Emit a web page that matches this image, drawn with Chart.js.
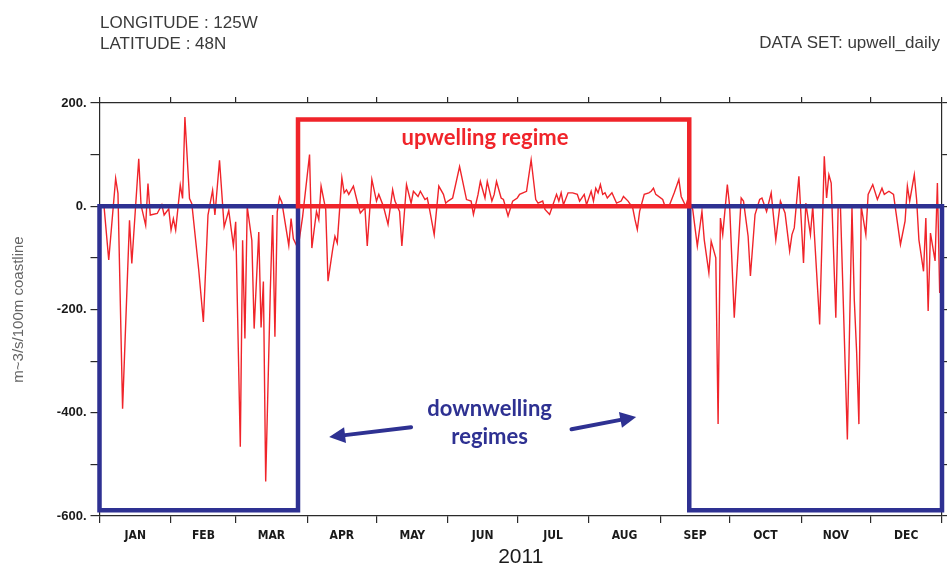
<!DOCTYPE html>
<html><head><meta charset="utf-8">
<script src="https://cdn.jsdelivr.net/npm/chart.js@4.4.0/dist/chart.umd.min.js"></script>
<style>html,body{margin:0;padding:0;background:#fff;}#wrap{width:948px;height:569px;}</style>
</head><body><div id="wrap"><canvas id="c" width="948" height="569"></canvas></div>
<script>
const monthNames = ['JAN','FEB','MAR','APR','MAY','JUN','JUL','AUG','SEP','OCT','NOV','DEC'];
const monthStarts = [0,31,59,90,120,151,181,212,243,273,304,334,365];
const monthMids = [15.5,45,74.5,105,135.5,166,196.5,227.5,258,288.5,319,349.5];
const yLabelTicks = [200,0,-200,-400,-600];

// daily upwelling index (m^3/s/100m coastline)
const days = [0,2,4,7,8,10,13,14,17,18,20,21,22,25,27,28,30,31,32,33,35,36,37,39,40,43,45,47,49,50,52,54,56,58,59,61,62,63,64,66,67,69,70,71,72,74,75,76,77,78,79,82,83,84,86,
88,91,92,94,95,96,98,99,101,102,103,105,106,107,108,110,112,113,115,116,118,120,121,123,125,127,128,130,131,133,135,136,138,139,141,142,143,145,147,149,150,151,153,156,159,161,162,164,165,167,168,170,171,172,174,175,177,179,
181,182,185,187,189,190,192,193,195,196,198,199,200,201,203,205,207,208,210,211,213,214,215,216,217,218,219,220,222,224,226,227,229,231,232,233,234,236,238,239,240,241,244,245,247,249,251,252,254,
255,257,259,261,262,264,265,267,268,269,270,272,273,275,278,279,281,282,284,286,287,289,291,293,295,297,299,300,301,303,305,306,308,309,312,314,315,316,317,319,320,321,324,326,327,328,329,330,332,333,335,337,339,340,342,344,345,347,349,350,351,353,354,355,357,358,359,360,362,363,364];
const upwell = [0,-2,-104,54,25,-392,-27,-111,92,2,-37,44,-17,-14,3,-17,-5,-46,-24,-46,41,15,173,15,5,-124,-224,-17,31,-17,89,-40,-8,-76,-30,-466,-66,-256,-1,-66,-237,-50,-235,-146,-533,-163,-17,-253,-11,18,8,-76,-24,-63,-82,
-20,100,-81,-10,-26,39,-6,-145,-84,-58,-71,55,26,32,23,39,3,-13,-3,-77,52,10,23,0,-35,32,10,-10,-77,42,6,29,19,29,13,16,-6,-55,39,23,6,10,16,77,13,10,-16,23,48,16,48,10,23,48,16,13,-19,10,
16,23,29,90,13,6,10,-6,-16,-3,23,10,26,3,26,26,23,10,23,3,29,10,35,26,42,23,26,16,26,6,10,19,10,-3,-26,-45,-10,23,26,29,35,23,13,0,3,26,52,19,0,
16,-6,-77,-10,-65,-129,-68,-100,-422,-23,-55,42,0,-216,16,10,-58,-135,-16,13,16,-10,26,-65,10,-13,-87,-55,-42,58,-110,6,-55,0,-229,97,16,61,45,-216,-3,0,-452,-3,-181,-281,-422,0,-55,23,42,13,35,23,29,23,-10,-74,-29,39,10,61,13,-65,-126,-23,-203,-52,-106,45,-168];

// regime boxes (day, value)
const upBoxX = [86,86,255.5,255.5,86];
const upBoxY = [0,168,168,0,0];
const downBox1X = [0,0,86,86,0];
const downBox1Y = [0,-589,-589,0,0];
const downBox2X = [255.5,255.5,365,365,255.5];
const downBox2Y = [0,-589,-589,0,0];

// annotation anchors (day, value)
const upLabel = {text:'upwelling regime', x:167, y:133};
const downLabel = {lines:['downwelling','regimes'], x:169, y:[-393,-447]};
const arrows = [
  {from:[135,-428], to:[99.5,-447]},
  {from:[204.5,-432], to:[232.5,-408]}
];

const RED = '#f0242a', BLUE = '#2e3192', AXIS = '#2a2a2a';
const pts = (xs, ys) => xs.map((x,i)=>({x, y: ys[i]}));

const annot = {
  id:'annot',
  afterDatasetsDraw(chart){
    const {ctx, scales:{x, y}} = chart;
    ctx.save();
    ctx.textAlign='center'; ctx.textBaseline='middle';
    ctx.font = 'bold 22px Lato, "Open Sans", sans-serif';
    ctx.fillStyle = RED;
    ctx.fillText(upLabel.text, x.getPixelForValue(upLabel.x), y.getPixelForValue(upLabel.y));
    ctx.fillStyle = BLUE;
    downLabel.lines.forEach((t,i)=>ctx.fillText(t, x.getPixelForValue(downLabel.x), y.getPixelForValue(downLabel.y[i])));
    ctx.strokeStyle = BLUE; ctx.lineWidth = 4; ctx.lineCap='round';
    arrows.forEach(a=>{
      const x1=x.getPixelForValue(a.from[0]), y1=y.getPixelForValue(a.from[1]);
      const x2=x.getPixelForValue(a.to[0]), y2=y.getPixelForValue(a.to[1]);
      const ang=Math.atan2(y2-y1,x2-x1), L=16, W=8;
      const bx=x2-L*Math.cos(ang), by=y2-L*Math.sin(ang);
      ctx.beginPath(); ctx.moveTo(x1,y1); ctx.lineTo(bx,by); ctx.stroke();
      ctx.beginPath(); ctx.moveTo(x2,y2);
      ctx.lineTo(bx+W*Math.sin(ang), by-W*Math.cos(ang));
      ctx.lineTo(bx-W*Math.sin(ang), by+W*Math.cos(ang));
      ctx.closePath(); ctx.fill();
    });
    ctx.restore();
  },
  afterDraw(chart){
    const ctx = chart.ctx;
    ctx.save();
    ctx.fillStyle='#3a3a3a'; ctx.font='17px "Liberation Sans", Arial, sans-serif';
    ctx.textBaseline='alphabetic'; ctx.textAlign='left';
    ctx.fillText('LONGITUDE : 125W', 100, 28);
    ctx.fillText('LATITUDE : 48N', 100, 49);
    ctx.textAlign='right';
    ctx.fillText('DATA SET: upwell_daily', 940, 48);
    ctx.restore();
  }
};

const boxDs = (xs, ys, color) => ({data: pts(xs, ys), borderColor: color, borderWidth: 4.5, pointRadius: 0,
  fill: false, tension: 0, clip: false, order: 1, borderJoinStyle: 'miter', borderCapStyle: 'square'});

new Chart(document.getElementById('c'), {
  type: 'line',
  data: { datasets: [
    {data: pts(days, upwell), borderColor: RED, borderWidth: 1.4, pointRadius: 0, tension: 0, order: 5},
    boxDs(upBoxX, upBoxY, RED),
    boxDs(downBox1X, downBox1Y, BLUE),
    boxDs(downBox2X, downBox2Y, BLUE)
  ]},
  options: {
    responsive: false, animation: false, devicePixelRatio: 1,
    layout: {padding: {top: 97, right: 0, left: 0, bottom: 0}},
    plugins: {legend: {display: false}, tooltip: {enabled: false}},
    scales: {
      x: {
        type: 'linear', position: 'bottom', min: 0, max: 365,
        afterBuildTicks: s => { s.ticks = monthStarts.concat(monthMids).sort((a,b)=>a-b).map(v=>({value:v})); },
        afterFit: s => { s.height = 53; },
        ticks: {autoSkip: false, maxRotation: 0, padding: 6, color: '#1a1a1a',
          font: {family: '"Liberation Sans Narrow", "DejaVu Sans Condensed", "Liberation Sans", sans-serif', size: 12, weight: 'bold'},
          callback: v => { const i = monthMids.indexOf(v); return i >= 0 ? monthNames[i] : ''; }},
        grid: {drawOnChartArea: false, tickLength: 7, lineWidth: 1.2,
          tickColor: c => (c.tick && monthStarts.includes(c.tick.value)) ? AXIS : 'rgba(0,0,0,0)'},
        border: {color: AXIS, width: 1.2},
        title: {display: true, text: '2011', color: '#1a1a1a', padding: {top: 0, bottom: 1},
          font: {family: '"Liberation Sans", Arial, sans-serif', size: 21, lineHeight: 1}}
      },
      x2: {
        type: 'linear', position: 'top', min: 0, max: 365,
        afterBuildTicks: s => { s.ticks = monthStarts.map(v=>({value:v})); },
        afterFit: s => { s.height = 6; },
        ticks: {display: false},
        grid: {drawOnChartArea: false, tickLength: 6, color: AXIS, lineWidth: 1.2},
        border: {color: AXIS, width: 1.2}
      },
      y: {
        min: -600, max: 200,
        afterFit: s => { s.width = 99.5; },
        ticks: {stepSize: 100, padding: 4, color: '#1a1a1a',
          font: {family: '"Liberation Sans", Arial, sans-serif', size: 13, weight: 'bold'},
          callback: v => yLabelTicks.includes(v) ? v + '.' : ''},
        grid: {drawOnChartArea: false, tickLength: 9, color: AXIS, lineWidth: 1.2},
        border: {color: AXIS, width: 1.2},
        title: {display: true, text: 'm~3/s/100m coastline', color: '#666', padding: {top: 10, bottom: 0},
          font: {family: '"Liberation Sans", Arial, sans-serif', size: 15}}
      },
      y2: {
        position: 'right', min: -600, max: 200,
        afterFit: s => { s.width = 5; },
        ticks: {display: false, stepSize: 100},
        grid: {drawOnChartArea: false, tickLength: 5, color: AXIS, lineWidth: 1.2},
        border: {color: AXIS, width: 1.2}
      }
    }
  },
  plugins: [annot]
});
</script>
</body></html>
